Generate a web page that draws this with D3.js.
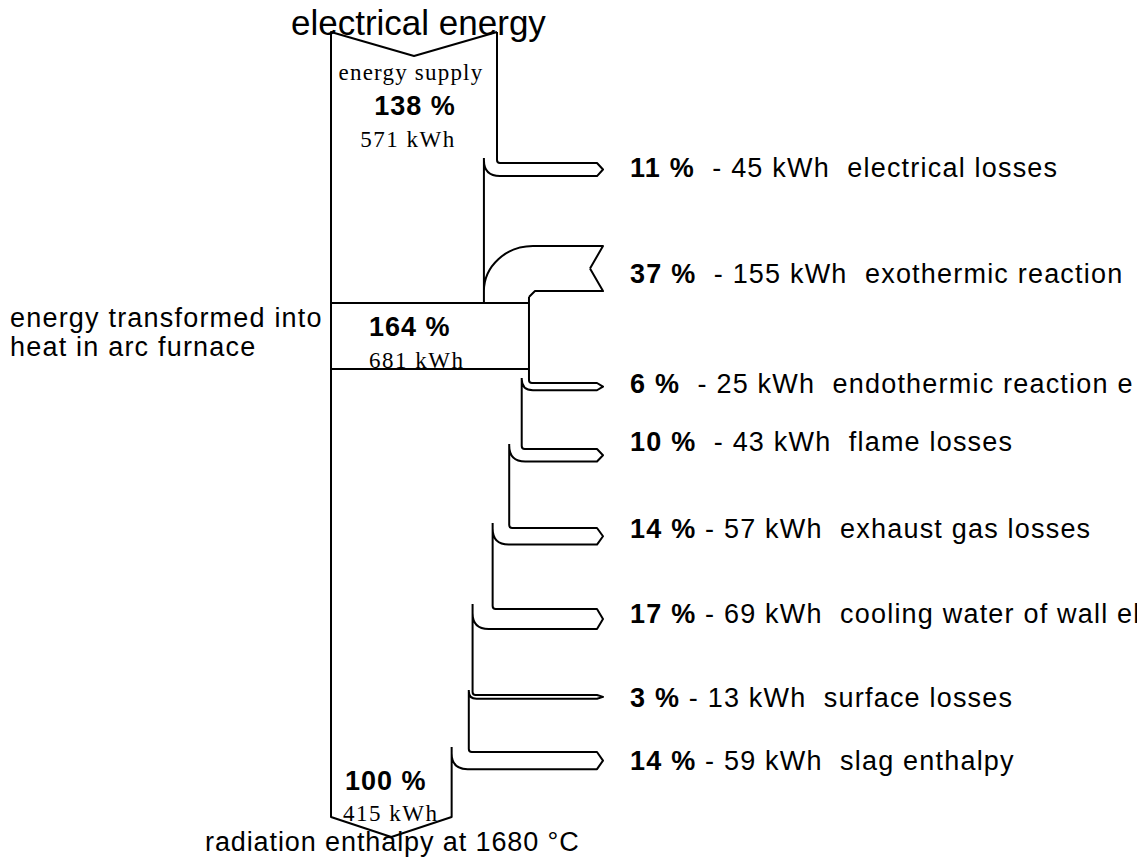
<!DOCTYPE html>
<html>
<head>
<meta charset="utf-8">
<script src="https://cdn.jsdelivr.net/npm/d3@7"></script>
<style>
  body { margin: 0; background: #fff; }
  svg { display: block; }
  text { font-family: "Liberation Sans", Arial, sans-serif; fill: #000; white-space: pre; }
  .serif { font-family: "Liberation Serif", "Times New Roman", serif; }
</style>
</head>
<body>
<div id="chart-area"></div>
<script>
var width = 1137, height = 861;

// flows leaving (or entering) the main stream, top to bottom
var flowNames = ['electrical losses', 'exothermic reaction', 'endothermic reaction e', 'flame losses',
  'exhaust gas losses', 'cooling water of wall el', 'surface losses', 'slag enthalpy'];
var flowPct = [11, 37, 6, 10, 14, 17, 3, 14];
var flowKwh = [45, 155, 25, 43, 57, 69, 13, 59];
var flowDir = ['out', 'in', 'out', 'out', 'out', 'out', 'out', 'out'];

// main stream: supply, furnace, output
var stageNames = ['energy supply', 'arc furnace', 'output'];
var stagePct = [138, 164, 100];
var stageKwh = [571, 681, 415];
var sourceLabel = 'electrical energy';
var furnaceLabel = ['energy transformed into', 'heat in arc furnace'];
var outputLabel = 'radiation enthalpy at 1680 °C';

var svg = d3.select('#chart-area')
  .append('svg')
    .attr('width', width)
    .attr('height', height);

// kWh -> stream width in pixels
var kwhScale = d3.scaleLinear()
  .domain([0, stageKwh[0]])
  .range([0, 166]);

// vertical slot of each branch and its label
var rowTop = d3.scaleOrdinal()
  .domain(flowNames)
  .range([163, 246, 383, 449, 528, 609, 695, 752]);
var rowLabel = d3.scaleOrdinal()
  .domain(flowNames)
  .range([177, 283, 393, 451, 538, 623, 707, 770]);

var x0 = 331, yTop = 32, yBottom = 817,
  tipX = 603, labelX = 630,
  bandTop = 303, bandBottom = 369;

var xr = x0 + kwhScale(stageKwh[0]),
  ys = yTop,
  xBand = xr;

var p = d3.path();

flowNames.forEach(function(name, i) {
  var t = rowTop(name),
    bw = kwhScale(flowKwh[i]);

  if (flowDir[i] === 'out') {
    var xn = xr - bw,
      c = Math.min(16, bw + 4);
    // outer edge turns right into the arrow
    p.moveTo(xr, ys);
    p.lineTo(xr, t - 3);
    p.quadraticCurveTo(xr, t, xr + 3, t);
    p.lineTo(tipX - 6, t);
    p.lineTo(tipX, t + bw / 2);
    p.lineTo(tipX - 6, t + bw);
    p.lineTo(xn + c, t + bw);
    p.quadraticCurveTo(xn, t + bw, xn, t + bw - c);
    xr = xn;
    ys = Math.min(t - 5, t + bw - c);
  } else {
    // incoming stream joins from the right
    var xi = xr + bw;
    p.moveTo(xr, ys);
    p.lineTo(xr, bandTop);
    p.moveTo(tipX - 13, t + bw / 2);
    p.lineTo(tipX, t);
    p.lineTo(xi + 4, t);
    p.bezierCurveTo(xi + 4 - (bw + 4) * 0.55, t, xr, t + bw * 0.45, xr, t + bw);
    p.moveTo(tipX - 13, t + bw / 2);
    p.lineTo(tipX, t + bw);
    p.lineTo(xi + 6, t + bw);
    p.lineTo(xi, t + bw + 6);
    xr = xi;
    xBand = xi;
    ys = t + bw + 6;
  }
});

// last edge, bottom arrow head and left edge with the top notch
var xMidTop = x0 + kwhScale(stageKwh[0]) / 2;
p.moveTo(xr, ys);
p.lineTo(xr, yBottom);
p.lineTo((x0 + xr) / 2, yBottom + 20);
p.lineTo(x0, yBottom);
p.lineTo(x0, yTop);
p.lineTo(xMidTop, yTop + 24);
p.lineTo(x0 + kwhScale(stageKwh[0]), yTop);

// furnace band
p.moveTo(x0, bandTop);
p.lineTo(xBand, bandTop);
p.moveTo(x0, bandBottom);
p.lineTo(xBand, bandBottom);

svg.append('path')
  .attr('d', p.toString())
  .attr('fill', 'none')
  .attr('stroke', '#000')
  .attr('stroke-width', 2)
  .attr('stroke-linejoin', 'round');

// branch labels
var labels = svg.selectAll('text.flow')
  .data(flowNames)
  .enter()
  .append('text')
    .attr('class', 'flow')
    .attr('x', labelX)
    .attr('y', name => rowLabel(name))
    .attr('font-size', '27px')
    .attr('letter-spacing', '1.2px');

labels.append('tspan')
  .attr('font-weight', 'bold')
  .text((name, i) => flowPct[i] + ' %');

labels.append('tspan')
  .text((name, i) => (i < 4 ? '  - ' : ' - ') + flowKwh[i] + ' kWh  ' + name);

// source title
svg.append('text')
  .attr('x', 291)
  .attr('y', 35)
  .attr('font-size', '35px')
  .text(sourceLabel);

// supply texts
svg.append('text')
  .attr('class', 'serif')
  .attr('x', xMidTop - 3)
  .attr('y', 80)
  .attr('text-anchor', 'middle')
  .attr('font-size', '23px')
  .attr('letter-spacing', '1.2px')
  .text(stageNames[0]);

svg.append('text')
  .attr('x', xMidTop + 1)
  .attr('y', 115)
  .attr('text-anchor', 'middle')
  .attr('font-size', '27px')
  .attr('font-weight', 'bold')
  .attr('letter-spacing', '1px')
  .text(stagePct[0] + ' %');

svg.append('text')
  .attr('class', 'serif')
  .attr('x', xMidTop - 6)
  .attr('y', 147)
  .attr('text-anchor', 'middle')
  .attr('font-size', '23px')
  .attr('letter-spacing', '1.5px')
  .text(stageKwh[0] + ' kWh');

// furnace texts
svg.selectAll('text.furnace')
  .data(furnaceLabel)
  .enter()
  .append('text')
    .attr('class', 'furnace')
    .attr('x', 10)
    .attr('y', (d, i) => 327 + i * 29)
    .attr('font-size', '27px')
    .attr('letter-spacing', '1.2px')
    .text(d => d);

svg.append('text')
  .attr('x', 369)
  .attr('y', 336)
  .attr('font-size', '27px')
  .attr('font-weight', 'bold')
  .attr('letter-spacing', '1px')
  .text(stagePct[1] + ' %');

svg.append('text')
  .attr('class', 'serif')
  .attr('x', 369)
  .attr('y', 368)
  .attr('font-size', '23px')
  .attr('letter-spacing', '1.5px')
  .text(stageKwh[1] + ' kWh');

// output texts
svg.append('text')
  .attr('x', 345)
  .attr('y', 790)
  .attr('font-size', '27px')
  .attr('font-weight', 'bold')
  .attr('letter-spacing', '1px')
  .text(stagePct[2] + ' %');

svg.append('text')
  .attr('class', 'serif')
  .attr('x', 343)
  .attr('y', 821)
  .attr('font-size', '23px')
  .attr('letter-spacing', '1.5px')
  .text(stageKwh[2] + ' kWh');

svg.append('text')
  .attr('x', 205)
  .attr('y', 851)
  .attr('font-size', '27px')
  .attr('letter-spacing', '0.9px')
  .text(outputLabel);
</script>
</body>
</html>
